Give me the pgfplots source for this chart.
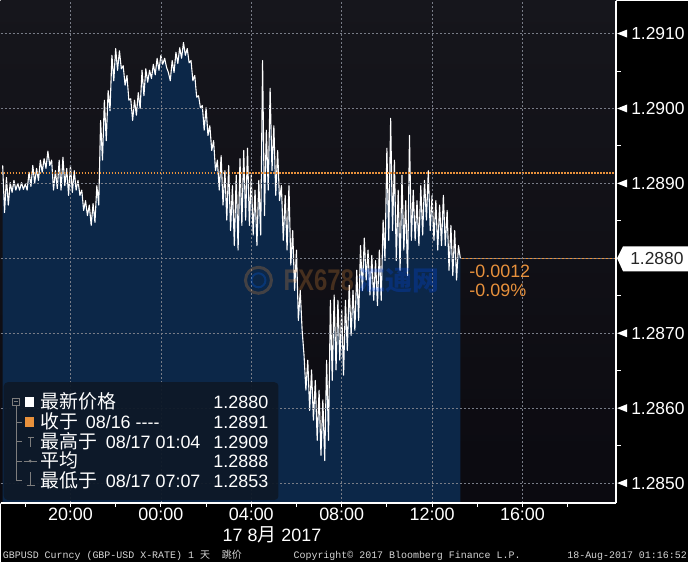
\documentclass[border=0pt]{standalone}
\usepackage{fontspec}
\setmainfont{Liberation Sans}
\newfontfamily\cjk{Noto Sans CJK SC}
\newfontfamily\mono{Liberation Mono}
\usepackage{pgfplots}
\usepackage{pgfplotstable}
\pgfplotsset{compat=1.18}
\definecolor{bbor}{RGB}{232,145,60}
\definecolor{fillBot}{RGB}{12,39,72}
\definecolor{bgTop}{RGB}{22,22,28}
\definecolor{bgBot}{RGB}{11,10,16}
\definecolor{gridc}{RGB}{120,124,135}
\definecolor{legbg}{RGB}{14,25,40}
\definecolor{treec}{RGB}{125,125,125}
\definecolor{foot}{RGB}{215,215,215}
\newcommand{\fs}[1]{\fontsize{#1}{#1}\selectfont}

\pgfplotstableread{
t y
-420 1.28924
-415 1.28861
-410 1.28908
-405 1.28871
-400 1.28901
-395 1.28888
-390 1.28904
-385 1.28891
-380 1.28900
-375 1.28891
-370 1.28901
-365 1.28892
-360 1.28899
-355 1.28891
-350 1.28915
-345 1.28896
-340 1.28924
-335 1.28900
-330 1.28920
-325 1.28904
-320 1.28931
-315 1.28915
-310 1.28933
-305 1.28920
-300 1.28943
-295 1.28924
-290 1.28931
-285 1.28891
-280 1.28917
-275 1.28893
-270 1.28931
-265 1.28891
-260 1.28935
-255 1.28897
-250 1.28920
-245 1.28884
-240 1.28924
-235 1.28888
-230 1.28917
-225 1.28891
-220 1.28904
-215 1.28884
-210 1.28891
-205 1.28864
-200 1.28877
-195 1.28857
-190 1.28871
-185 1.28844
-180 1.28873
-175 1.28848
-170 1.28897
-165 1.28871
-160 1.28984
-155 1.28931
-150 1.29011
-145 1.28957
-140 1.29024
-135 1.28997
-130 1.29071
-125 1.29037
-120 1.29080
-115 1.29051
-110 1.29077
-105 1.29053
-100 1.29057
-95 1.29031
-90 1.29044
-85 1.29011
-80 1.29013
-75 1.28984
-70 1.29011
-65 1.28991
-60 1.29021
-55 1.29000
-50 1.29051
-45 1.29017
-40 1.29053
-35 1.29035
-30 1.29051
-25 1.29040
-20 1.29059
-15 1.29045
-10 1.29067
-5 1.29051
0 1.29071
5 1.29059
10 1.29067
15 1.29055
20 1.29048
25 1.29037
30 1.29064
35 1.29048
40 1.29075
45 1.29060
50 1.29081
55 1.29067
60 1.29088
65 1.29071
70 1.29080
75 1.29061
80 1.29064
85 1.29037
90 1.29044
95 1.29015
100 1.29017
105 1.29001
110 1.29004
115 1.28971
120 1.29001
125 1.28964
130 1.28977
135 1.28944
140 1.28957
145 1.28917
150 1.28931
155 1.28891
160 1.28937
165 1.28871
170 1.28917
175 1.28851
180 1.28924
185 1.28837
190 1.28897
195 1.28817
200 1.28911
205 1.28811
210 1.28933
215 1.28844
220 1.28944
225 1.28851
230 1.28947
235 1.28844
240 1.28911
245 1.28831
250 1.28891
255 1.28817
260 1.28904
265 1.28831
270 1.29064
275 1.28857
280 1.28971
285 1.28891
290 1.29027
295 1.28917
300 1.28977
305 1.28884
310 1.28944
315 1.28877
320 1.28897
325 1.28824
330 1.28884
335 1.28811
340 1.28897
345 1.28791
350 1.28837
355 1.28757
360 1.28811
365 1.28717
370 1.28757
375 1.28704
380 1.28671
385 1.28624
390 1.28664
395 1.28597
400 1.28651
405 1.28584
410 1.28637
415 1.28557
420 1.28624
425 1.28537
430 1.28611
435 1.28530
440 1.28664
445 1.28557
450 1.28744
455 1.28637
460 1.28751
465 1.28651
470 1.28744
475 1.28664
480 1.28731
485 1.28644
490 1.28744
495 1.28677
500 1.28764
505 1.28697
510 1.28757
515 1.28704
520 1.28784
525 1.28717
530 1.28817
535 1.28757
540 1.28827
545 1.28771
550 1.28811
555 1.28751
560 1.28804
565 1.28744
570 1.28797
575 1.28737
580 1.28811
585 1.28744
590 1.28851
595 1.28797
600 1.28947
605 1.28824
610 1.28987
615 1.28837
620 1.28931
625 1.28797
630 1.28891
635 1.28784
640 1.28911
645 1.28811
650 1.28877
655 1.28777
660 1.28964
665 1.28824
670 1.28891
675 1.28824
680 1.28877
685 1.28817
690 1.28897
695 1.28831
700 1.28904
705 1.28851
710 1.28917
715 1.28837
720 1.28884
725 1.28824
730 1.28877
735 1.28811
740 1.28871
745 1.28817
750 1.28884
755 1.28817
760 1.28864
765 1.28784
770 1.28844
775 1.28777
780 1.28837
785 1.28771
790 1.28817
795 1.28800
}\datatable

\begin{document}
\begin{tikzpicture}
\begin{scope}[x=1bp,y=1bp]
\useasboundingbox (0,0) rectangle (688,562);
\fill[black] (0,0) rectangle (688,562);
\end{scope}
\begin{axis}[
  at={(0bp,59bp)}, anchor=south west,
  width=616bp, height=503bp, scale only axis,
  xmin=-425.1, xmax=1208.5, ymin=1.284733, ymax=1.29144,
  axis x line*=bottom, axis y line*=right,
  axis line style={white, line width=1.2bp},
  axis on top, clip=false,
  axis background/.style={top color=bgTop, bottom color=bgBot},
  xtick={-240,0,240,480,720,960},
  xticklabels={20:00,00:00,04:00,08:00,12:00,16:00},
  minor xtick={-360,-120,120,360,600,840,1080},
  ytick={1.285,1.286,1.287,1.288,1.289,1.290,1.291},
  yticklabels={1.2850,1.2860,1.2870,{},1.2890,1.2900,1.2910},
  tick align=outside,
  major tick length=4bp, minor tick length=4bp,
  xtick style={white, line width=1bp},
  ytick style={draw=none},
  grid=major,
  major grid style={gridc, line width=0.6bp, dash pattern=on 2bp off 2bp},
  xticklabel style={font=\fs{18}, text=white, inner sep=0pt, yshift=-1bp},
  yticklabel style={font=\fs{17.5}, text=white, inner sep=0pt, anchor=west, xshift=11bp},
]
\addplot[draw=none, fill=fillBot] table[x=t,y=y] {\datatable} \closedcycle;
\addplot[white, line width=1.1bp, line join=round, mark=none] table[x=t,y=y] {\datatable};
\addplot[bbor, line width=1.5bp, dash pattern=on 1.5bp off 1.5bp, mark=none] coordinates {(-425.1,1.28914) (1208.5,1.28914)};
\addplot[bbor, line width=1bp, mark=none] coordinates {(795,1.2880) (1208.5,1.2880)};
\end{axis}

\begin{scope}[x=1bp,y=1bp]
% right axis markers
\foreach \yy in {79,154,229,379,454,529} \fill[white] (617,\yy) -- (627,\yy+4) -- (627,\yy-4) -- cycle;
\foreach \yy in {116.5,191.5,266.5,341.5,416.5,491.5} \draw[white, line width=1bp] (616,\yy) -- (621,\yy);
% current price box
\fill[white] (617,304) -- (623,316) -- (688,316) -- (688,291) -- (623,291) -- cycle;
\node[anchor=base west, inner sep=0, font=\fs{17.5}, text=black!85] at (630,297.8) {1.2880};
% change labels
\node[anchor=base west, inner sep=0, font=\fs{18}, text=bbor] at (469,285) {-0.0012};
\node[anchor=base west, inner sep=0, font=\fs{18}, text=bbor] at (469,266) {-0.09\%};

% watermark
\begin{scope}[opacity=0.25]
\draw[line width=3bp, bbor] (258,282) circle (13);
\draw[line width=2bp, blue!60!cyan] (258,282) circle (7);
\node[anchor=west, inner sep=0, font=\bfseries\fs{30}, text=bbor, xscale=0.8] at (283,282) {FX678};
\node[anchor=west, inner sep=0, font=\cjk\bfseries\fs{27}, text=blue!70!cyan] at (358,282) {汇通网};
\end{scope}

% legend box
\fill[legbg, rounded corners=4bp, opacity=0.95] (3,62) rectangle (278,180);
\draw[treec, line width=0.8bp] (12,157) rectangle (19,164);
\draw[treec, line width=0.8bp] (13.5,160.5) -- (17.5,160.5);
\draw[treec, line width=0.8bp] (15.5,157) -- (15.5,82);
\foreach \yy in {140,121,101,82} \draw[treec, line width=0.8bp] (15.5,\yy) -- (21,\yy);
\fill[white] (24,155) rectangle (33,165);
\fill[bbor] (24,135) rectangle (33,145);
\draw[treec, line width=0.9bp] (27,125) -- (33,125) (30,125) -- (30,115);
\draw[treec, line width=0.9bp] (23,101) -- (36,101);
\fill[treec] (29.5,101) circle (1.6);
\draw[treec, line width=0.9bp] (30,90) -- (30,77) (26,77) -- (34,77);

\node[anchor=base west, inner sep=0, text=white, font=\cjk\fs{19}] at (40,153.5) {最新价格};
\node[anchor=base east, inner sep=0, text=white, font=\fs{18}] at (268,153.5) {1.2880};
\node[anchor=base west, inner sep=0, text=white, font=\cjk\fs{19}] at (40,133.7) {收于};
\node[anchor=base west, inner sep=0, text=white, font=\fs{18}] at (85,133.7) {08/16 -{}-{}-{}-};
\node[anchor=base east, inner sep=0, text=white, font=\fs{18}] at (268,133.7) {1.2891};
\node[anchor=base west, inner sep=0, text=white, font=\cjk\fs{19}] at (40,113.9) {最高于};
\node[anchor=base west, inner sep=0, text=white, font=\fs{18}] at (105,113.9) {08/17 01:04};
\node[anchor=base east, inner sep=0, text=white, font=\fs{18}] at (268,113.9) {1.2909};
\node[anchor=base west, inner sep=0, text=white, font=\cjk\fs{19}] at (40,94.1) {平均};
\node[anchor=base east, inner sep=0, text=white, font=\fs{18}] at (268,94.1) {1.2888};
\node[anchor=base west, inner sep=0, text=white, font=\cjk\fs{19}] at (40,74.3) {最低于};
\node[anchor=base west, inner sep=0, text=white, font=\fs{18}] at (105,74.3) {08/17 07:07};
\node[anchor=base east, inner sep=0, text=white, font=\fs{18}] at (268,74.3) {1.2853};

% date under axis
\node[anchor=base west, inner sep=0, text=white, font=\fs{18}] at (222,20.5) {17 8{\cjk\fs{19}月} 2017};

% footer
\node[anchor=base west, inner sep=0, text=foot, font=\mono\fs{10}] at (2,3.7) {GBPUSD Curncy (GBP-USD X-RATE) 1 {\cjk 天}\ \ {\cjk 跳价}};
\node[anchor=base west, inner sep=0, text=foot, font=\mono\fs{10}] at (293,3.7) {Copyright© 2017 Bloomberg Finance L.P.};
\node[anchor=base west, inner sep=0, text=foot, font=\mono\fs{10}] at (567,3.7) {18-Aug-2017 01:16:52};
\end{scope}
\end{tikzpicture}
\end{document}
